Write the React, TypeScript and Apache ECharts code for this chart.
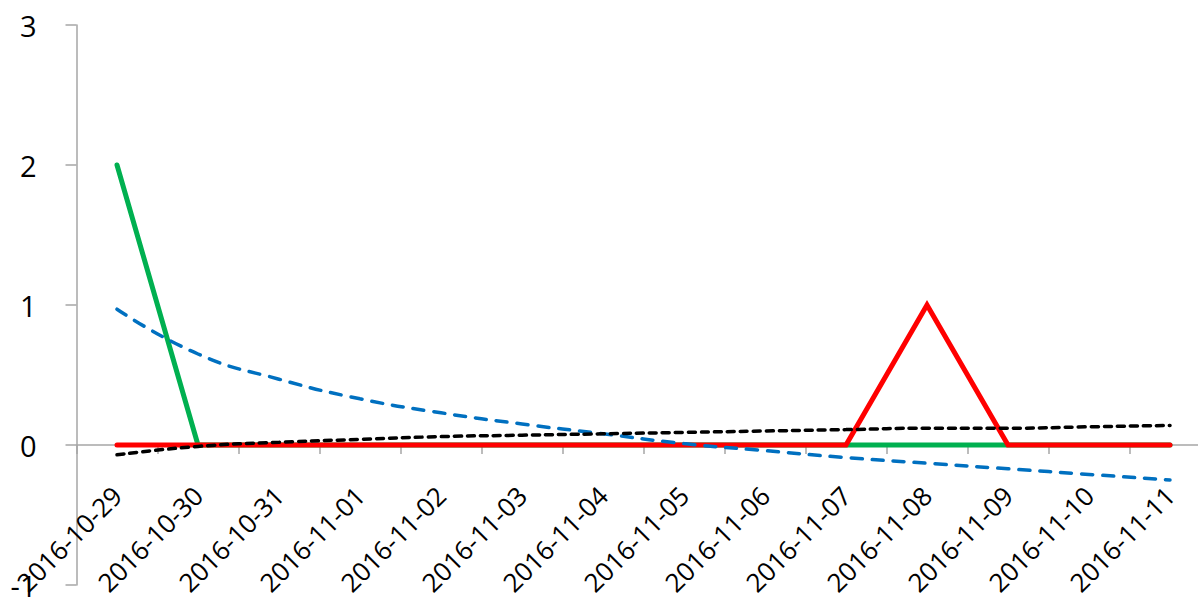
import React, { useEffect, useRef } from "react";
import * as echarts from "echarts";

const categories = [
  "2016-10-29", "2016-10-30", "2016-10-31", "2016-11-01", "2016-11-02",
  "2016-11-03", "2016-11-04", "2016-11-05", "2016-11-06", "2016-11-07",
  "2016-11-08", "2016-11-09", "2016-11-10", "2016-11-11",
];
const greenValues = [2, 0, 0, 0, 0, 0, 0, 0, 0, 0, 0, 0, 0, 0];
const redValues = [0, 0, 0, 0, 0, 0, 0, 0, 0, 0, 1, 0, 0, 0];
const blueTrend = [0.97, 0.65, 0.47, 0.33, 0.23, 0.15, 0.08, 0.01, -0.04, -0.09, -0.13, -0.17, -0.21, -0.25];
const blackTrend = [-0.07, -0.01, 0.02, 0.04, 0.06, 0.07, 0.08, 0.09, 0.1, 0.11, 0.12, 0.12, 0.13, 0.14];
const yTicks = { min: -1, max: 3, interval: 1 };

const FONT = "Open Sans";

export default function App() {
  const ref = useRef<HTMLDivElement>(null);
  useEffect(() => {
    if (!ref.current) return;
    const chart = echarts.init(ref.current, null, { renderer: "svg" });
    chart.setOption({
      animation: false,
      backgroundColor: "#ffffff",
      grid: { left: 76.5, top: 25, width: 1134, height: 560, containLabel: false, outerBoundsMode: "none" },
      xAxis: {
        type: "category",
        data: categories,
        boundaryGap: true,
        axisLine: { show: true, onZero: true, lineStyle: { color: "#a6a6a6", width: 1.5 } },
        axisTick: { show: true, length: 9, lineStyle: { color: "#a6a6a6", width: 1.5 } },
        axisLabel: {
          interval: 0,
          rotate: 45,
          margin: -94,
          fontFamily: FONT,
          fontSize: 26,
          color: "#000000",
        },
        splitLine: { show: false },
      },
      yAxis: {
        type: "value",
        min: yTicks.min,
        max: yTicks.max,
        interval: yTicks.interval,
        axisLine: { show: true, lineStyle: { color: "#a6a6a6", width: 1.5 } },
        axisTick: { show: true, length: 11, lineStyle: { color: "#a6a6a6", width: 1.5 } },
        axisLabel: { margin: 40, fontFamily: FONT, fontSize: 29, color: "#000000" },
        splitLine: { show: false },
      },
      series: [
        {
          name: "green",
          type: "line",
          data: greenValues,
          symbol: "none",
          lineStyle: { color: "#00b050", width: 5, cap: "round", join: "round" },
          z: 2,
        },
        {
          name: "red",
          type: "line",
          data: redValues,
          symbol: "none",
          lineStyle: { color: "#ff0000", width: 5, cap: "round", join: "miter" },
          z: 3,
        },
        {
          name: "blueTrend",
          type: "line",
          data: blueTrend,
          symbol: "none",
          smooth: true,
          lineStyle: { color: "#0070c0", width: 3.5, type: [11, 10], cap: "round" },
          z: 4,
        },
        {
          name: "blackTrend",
          type: "line",
          data: blackTrend,
          symbol: "none",
          smooth: true,
          lineStyle: { color: "#000000", width: 3.5, type: [7, 6], cap: "round" },
          z: 4,
        },
      ],
    });
    return () => chart.dispose();
  }, []);
  return (
    <div style={{ position: "fixed", left: 0, top: 0, width: 1198, height: 598, overflow: "hidden", background: "#fff" }}>
      <div ref={ref} style={{ width: 1240, height: 598 }} />
    </div>
  );
}
